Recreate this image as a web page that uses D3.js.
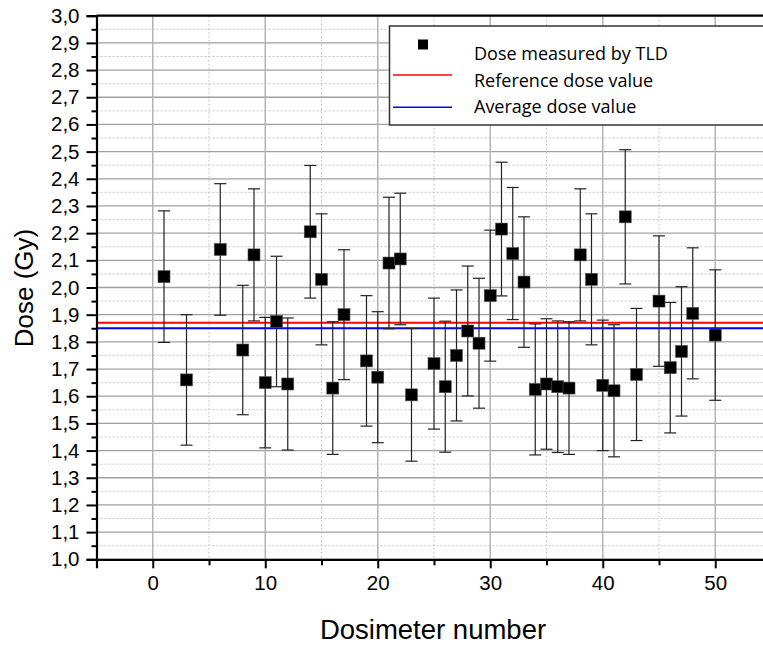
<!DOCTYPE html>
<html>
<head>
<meta charset="utf-8">
<script src="https://cdn.jsdelivr.net/npm/d3@7"></script>
<style>
  body { margin: 0; background: #fff; }
  svg { display: block; }
</style>
</head>
<body>
<div id="chart"></div>
<script>
// dosimeter index and measured dose (Gy) with its uncertainty
const dosimeterNumbers = [1, 3, 6, 8, 9, 10, 11, 12, 14, 15, 16, 17, 19, 20, 21, 22, 23, 25, 26, 27, 28,
    29, 30, 31, 32, 33, 34, 35, 36, 37, 38, 39, 40, 41, 42, 43, 45, 46, 47, 48, 50];
const doseValues = [2.04, 1.66, 2.14, 1.77, 2.12, 1.65, 1.875, 1.645, 2.205, 2.03, 1.63, 1.90, 1.73, 1.67,
    2.09, 2.105, 1.605, 1.72, 1.635, 1.75, 1.84, 1.795, 1.97, 2.215, 2.125, 2.02, 1.625, 1.645, 1.635, 1.63,
    2.12, 2.03, 1.64, 1.62, 2.26, 1.68, 1.95, 1.705, 1.765, 1.905, 1.825];
const doseErrors = [0.242, 0.24, 0.242, 0.238, 0.243, 0.24, 0.24, 0.243, 0.244, 0.241, 0.244, 0.239, 0.24,
    0.241, 0.242, 0.242, 0.244, 0.241, 0.241, 0.241, 0.239, 0.239, 0.241, 0.246, 0.243, 0.24, 0.241, 0.24,
    0.242, 0.244, 0.243, 0.241, 0.24, 0.243, 0.247, 0.243, 0.24, 0.24, 0.238, 0.241, 0.24];

const referenceDose = 1.87;
const averageDose = 1.85;

const xMajorTicks = [0, 10, 20, 30, 40, 50];
const xMinorTicks = [-5, 5, 15, 25, 35, 45, 55];
const yMajorTicks = [1.0, 1.1, 1.2, 1.3, 1.4, 1.5, 1.6, 1.7, 1.8, 1.9, 2.0, 2.1, 2.2, 2.3, 2.4, 2.5, 2.6, 2.7, 2.8, 2.9, 3.0];
const yMinorTicks = [1.05, 1.15, 1.25, 1.35, 1.45, 1.55, 1.65, 1.75, 1.85, 1.95, 2.05, 2.15, 2.25, 2.35, 2.45, 2.55, 2.65, 2.75, 2.85, 2.95];

const legendLabels = ["Dose measured by TLD", "Reference dose value", "Average dose value"];

const data = dosimeterNumbers.map((n, i) => ({n: n, dose: doseValues[i], err: doseErrors[i]}));

const W = 763, H = 645;
const plot = {left: 96.5, right: 771.5, top: 15.7, bottom: 559.3};

const svg = d3.select("#chart")
    .append("svg")
        .attr("width", W)
        .attr("height", H);

const x = d3.scaleLinear()
    .domain([-5, 55])
    .range([plot.left, plot.right]);

const y = d3.scaleLinear()
    .domain([1.0, 3.0])
    .range([plot.bottom, plot.top]);

const grid = svg.append("g").attr("class", "grid");

// minor grid
grid.selectAll(".hminor")
    .data(yMinorTicks)
    .join("line")
        .attr("x1", plot.left).attr("x2", plot.right)
        .attr("y1", d => y(d)).attr("y2", d => y(d))
        .style("stroke", "#c4c4c4")
        .style("stroke-width", 1)
        .style("stroke-dasharray", "2,2");

grid.selectAll(".vminor")
    .data(xMinorTicks)
    .join("line")
        .attr("x1", d => x(d)).attr("x2", d => x(d))
        .attr("y1", plot.top).attr("y2", plot.bottom)
        .style("stroke", "#c4c4c4")
        .style("stroke-width", 1)
        .style("stroke-dasharray", "2,2");

// major grid
grid.selectAll(".hmajor")
    .data(yMajorTicks)
    .join("line")
        .attr("x1", plot.left).attr("x2", plot.right)
        .attr("y1", d => y(d)).attr("y2", d => y(d))
        .style("stroke", "#a0a0a0")
        .style("stroke-width", 1.3);

grid.selectAll(".vmajor")
    .data(xMajorTicks)
    .join("line")
        .attr("x1", d => x(d)).attr("x2", d => x(d))
        .attr("y1", plot.top).attr("y2", plot.bottom)
        .style("stroke", "#b4b4b4")
        .style("stroke-width", 1.5);

// reference and average lines
svg.append("line")
    .attr("x1", plot.left).attr("x2", plot.right)
    .attr("y1", y(referenceDose)).attr("y2", y(referenceDose))
    .style("stroke", "#ff0000")
    .style("stroke-width", 2);

svg.append("line")
    .attr("x1", plot.left).attr("x2", plot.right)
    .attr("y1", y(averageDose)).attr("y2", y(averageDose))
    .style("stroke", "#0000ff")
    .style("stroke-width", 2);

// error bars
const capW = 6;
const bars = svg.append("g").attr("class", "errorbars")
    .style("stroke", "#222")
    .style("stroke-width", 1.2);

bars.selectAll(".stem")
    .data(data)
    .join("line")
        .attr("x1", d => x(d.n)).attr("x2", d => x(d.n))
        .attr("y1", d => y(d.dose + d.err)).attr("y2", d => y(d.dose - d.err));

bars.selectAll(".captop")
    .data(data)
    .join("line")
        .attr("x1", d => x(d.n) - capW).attr("x2", d => x(d.n) + capW)
        .attr("y1", d => y(d.dose + d.err)).attr("y2", d => y(d.dose + d.err));

bars.selectAll(".capbot")
    .data(data)
    .join("line")
        .attr("x1", d => x(d.n) - capW).attr("x2", d => x(d.n) + capW)
        .attr("y1", d => y(d.dose - d.err)).attr("y2", d => y(d.dose - d.err));

// markers
const sq = 12;
svg.selectAll(".marker")
    .data(data)
    .join("rect")
        .attr("class", "marker")
        .attr("x", d => x(d.n) - sq / 2)
        .attr("y", d => y(d.dose) - sq / 2)
        .attr("width", sq)
        .attr("height", sq)
        .style("fill", "#000")
        .style("stroke", "#555")
        .style("stroke-width", 0.6);

// axes
const fmt = d => d3.format(".1f")(d).replace(".", ",");

const yAxis = svg.append("g")
    .attr("transform", "translate(" + plot.left + ",0)")
    .call(d3.axisLeft(y).tickValues(yMajorTicks).tickSize(10).tickPadding(7).tickFormat(fmt));
svg.append("g")
    .attr("transform", "translate(" + plot.left + ",0)")
    .call(d3.axisLeft(y).tickValues(yMinorTicks).tickSize(5).tickFormat(""))
    .call(g => g.select(".domain").remove());

const xAxis = svg.append("g")
    .attr("transform", "translate(0," + plot.bottom + ")")
    .call(d3.axisBottom(x).tickValues(xMajorTicks).tickSize(9).tickPadding(7).tickFormat(d3.format("d")));
svg.append("g")
    .attr("transform", "translate(0," + plot.bottom + ")")
    .call(d3.axisBottom(x).tickValues(xMinorTicks).tickSize(6).tickFormat(""))
    .call(g => g.select(".domain").remove());

svg.selectAll(".tick line").style("stroke", "#000").style("stroke-width", 2);
[yAxis, xAxis].forEach(a => {
    a.select(".domain").style("stroke", "#000").style("stroke-width", 2.2);
    a.selectAll(".tick text")
        .style("font-family", "'Liberation Sans', Arial, sans-serif")
        .style("font-size", "20.5px")
        .style("fill", "#000");
});

// top frame line
svg.append("line")
    .attr("x1", plot.left).attr("x2", W)
    .attr("y1", plot.top).attr("y2", plot.top)
    .style("stroke", "#000")
    .style("stroke-width", 2.2);

// axis titles
svg.append("text")
    .attr("x", 433)
    .attr("y", 639)
    .style("text-anchor", "middle")
    .style("font-family", "'Liberation Sans', Arial, sans-serif")
    .style("font-size", "27.5px")
    .text("Dosimeter number");

svg.append("text")
    .attr("transform", "translate(33,288) rotate(-90)")
    .style("text-anchor", "middle")
    .style("font-family", "'Liberation Sans', Arial, sans-serif")
    .style("font-size", "26px")
    .text("Dose (Gy)");

// legend
const legend = svg.append("g").attr("class", "legend");
legend.append("rect")
    .attr("x", 389.5).attr("y", 26)
    .attr("width", 390).attr("height", 99)
    .style("fill", "#fff")
    .style("stroke", "#333")
    .style("stroke-width", 1.5);

legend.append("rect")
    .attr("x", 418).attr("y", 39.5)
    .attr("width", 10).attr("height", 10)
    .style("fill", "#000");

legend.append("line")
    .attr("x1", 393).attr("x2", 452)
    .attr("y1", 75).attr("y2", 75)
    .style("stroke", "#ff0000").style("stroke-width", 1.5);

legend.append("line")
    .attr("x1", 393).attr("x2", 452)
    .attr("y1", 107.3).attr("y2", 107.3)
    .style("stroke", "#0000ff").style("stroke-width", 1.5);

legend.selectAll(".legend-label")
    .data(legendLabels)
    .join("text")
        .attr("class", "legend-label")
        .attr("x", 474)
        .attr("y", (d, i) => [60, 86.5, 113][i])
        .style("font-family", "'Open Sans', sans-serif")
        .style("font-size", "18px")
        .style("fill", "#000")
        .text(d => d);
</script>
</body>
</html>
